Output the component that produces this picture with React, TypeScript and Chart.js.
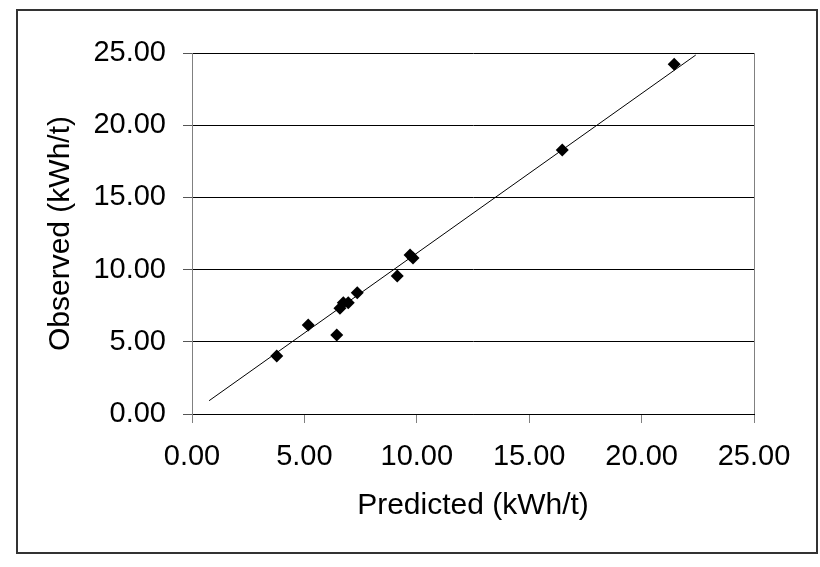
import React, { useEffect, useRef } from "react";
import { Chart, registerables } from "chart.js";

Chart.register(...registerables);

const predicted = [3.77, 5.17, 6.44, 6.58, 6.73, 6.95, 7.35, 9.13, 9.70, 9.83, 16.47, 21.45];
const observed = [4.02, 6.16, 5.47, 7.32, 7.71, 7.71, 8.40, 9.56, 11.01, 10.80, 18.28, 24.22];
const trendX = [0.76, 22.41];
const trendY = [0.92, 24.86];
const axisTicks = [0, 5, 10, 15, 20, 25];
const xTitle = "Predicted (kWh/t)";
const yTitle = "Observed (kWh/t)";

const FONT = "'Liberation Sans', Arial, sans-serif";

const framePlugin = {
  id: "frame",
  beforeDraw(chart: any) {
    const { ctx } = chart;
    ctx.save();
    ctx.fillStyle = "#ffffff";
    ctx.fillRect(0, 0, chart.width, chart.height);
    ctx.strokeStyle = "#333333";
    ctx.lineWidth = 2;
    ctx.strokeRect(17, 10, 800, 543);
    ctx.restore();
  },
  afterDatasetsDraw() {},
  beforeDatasetsDraw(chart: any) {
    const { ctx, chartArea } = chart;
    ctx.save();
    ctx.strokeStyle = "#808080";
    ctx.lineWidth = 1;
    ctx.beginPath();
    ctx.moveTo(Math.round(chartArea.right) + 0.5, chartArea.top);
    ctx.lineTo(Math.round(chartArea.right) + 0.5, chartArea.bottom);
    ctx.stroke();
    ctx.restore();
  },
};

export default function App() {
  const ref = useRef<HTMLCanvasElement | null>(null);
  useEffect(() => {
    if (!ref.current) return;
    const chart = new Chart(ref.current, {
      type: "scatter",
      data: {
        datasets: [
          {
            type: "line",
            label: "Trend",
            data: trendX.map((x, i) => ({ x, y: trendY[i] })),
            borderColor: "#000000",
            borderWidth: 1,
            pointRadius: 0,
            showLine: true,
            fill: false,
            order: 2,
          } as any,
          {
            label: "Data",
            data: predicted.map((x, i) => ({ x, y: observed[i] })),
            pointStyle: "rectRot",
            pointRadius: 6.5,
            pointHoverRadius: 6.5,
            backgroundColor: "#000000",
            borderColor: "#000000",
            borderWidth: 0,
            order: 1,
          },
        ],
      },
      options: {
        responsive: false,
        animation: false,
        layout: { padding: { top: 53, right: 66, left: 0, bottom: 0 } },
        plugins: { legend: { display: false }, tooltip: { enabled: false } },
        scales: {
          x: {
            type: "linear",
            min: axisTicks[0],
            max: axisTicks[axisTicks.length - 1],
            afterFit: (s: any) => { s.height = 153; },
            afterBuildTicks: (s: any) => { s.ticks = axisTicks.map((v) => ({ value: v })); },
            ticks: {
              padding: 17,
              color: "#000000",
              font: { family: FONT, size: 29 },
              maxRotation: 0,
              callback: (v: any) => Number(v).toFixed(2),
            },
            grid: { drawOnChartArea: false, drawTicks: true, tickLength: 9, tickColor: "#808080" },
            border: { color: "#000000", width: 1 },
            title: {
              display: true,
              text: xTitle,
              color: "#000000",
              font: { family: FONT, size: 30 },
              padding: { top: 0, bottom: 43 },
            },
          },
          y: {
            type: "linear",
            min: axisTicks[0],
            max: axisTicks[axisTicks.length - 1],
            afterFit: (s: any) => { s.width = 192; },
            afterBuildTicks: (s: any) => { s.ticks = axisTicks.map((v) => ({ value: v })); },
            ticks: {
              padding: 17,
              color: "#000000",
              font: { family: FONT, size: 29 },
              callback: (v: any) => Number(v).toFixed(2),
            },
            grid: { color: "#000000", lineWidth: 1, drawTicks: true, tickLength: 9, tickColor: "#555555" },
            border: { color: "#808080", width: 1 },
            title: {
              display: true,
              text: yTitle,
              color: "#000000",
              font: { family: FONT, size: 30 },
              padding: { top: 43, bottom: 0 },
            },
          },
        },
      },
      plugins: [framePlugin],
    });
    return () => chart.destroy();
  }, []);
  return (
    <div style={{ position: "fixed", left: 0, top: 0, width: 820, height: 567, background: "#fff" }}>
      <canvas ref={ref} width={820} height={567} />
    </div>
  );
}
